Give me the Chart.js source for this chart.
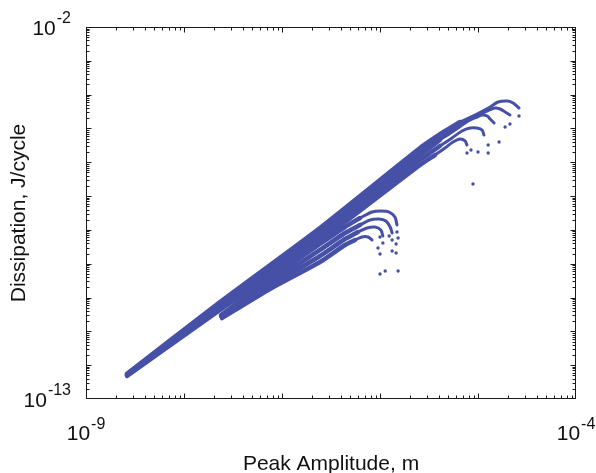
<!DOCTYPE html>
<html>
<head>
<meta charset="utf-8">
<style>html,body{margin:0;padding:0;background:#fff}canvas{display:block}</style>
<script src="https://cdn.jsdelivr.net/npm/chart.js@4.4.1/dist/chart.umd.min.js"></script>
</head>
<body>
<canvas id="c" width="596" height="473"></canvas>
<script>
// ---- Data ----
const xTitle = 'Peak Amplitude, m';
const yTitle = 'Dissipation, J/cycle';
const xTickValues = [1e-9, 1e-4];
const xTickExps = ['-9', '-4'];
const yTickValues = [1e-2, 1e-13];
const yTickExps = ['-2', '-13'];
const minorSteps = [2, 3, 4, 5, 6, 7, 8, 9];

// upper family of curves (start near 2.6e-9 m)
const u1X = [2.62e-9, 2.33e-8, 2.44e-7, 2.56e-6, 4.61e-6, 6.55e-6, 9.77e-6, 1.33e-5, 1.60e-5, 2.02e-5, 2.28e-5, 2.62e-5];
const u1Y = [5.60e-13, 7.38e-11, 1.14e-8, 2.64e-6, 8.41e-6, 1.55e-5, 2.68e-5, 4.31e-5, 6.06e-5, 6.48e-5, 5.66e-5, 4.03e-5];
const u2X = [2.62e-9, 2.33e-8, 2.44e-7, 2.56e-6, 4.61e-6, 6.55e-6, 9.32e-6, 1.18e-5, 1.49e-5, 1.68e-5, 1.89e-5, 2.12e-5];
const u2Y = [5.40e-13, 6.44e-11, 9.28e-9, 2.15e-6, 6.85e-6, 1.27e-5, 2.18e-5, 3.07e-5, 4.03e-5, 3.76e-5, 3.07e-5, 2.50e-5];
const u3X = [2.62e-9, 2.33e-8, 2.44e-7, 2.56e-6, 4.09e-6, 5.83e-6, 7.91e-6, 9.77e-6, 1.10e-5, 1.24e-5, 1.33e-5, 1.46e-5];
const u3Y = [5.20e-13, 5.62e-11, 7.57e-9, 1.64e-6, 4.56e-6, 9.00e-6, 1.66e-5, 2.18e-5, 2.50e-5, 2.34e-5, 1.90e-5, 1.45e-5];
const u4X = [2.62e-9, 2.33e-8, 2.44e-7, 2.56e-6, 4.09e-6, 5.43e-6, 6.87e-6, 8.29e-6, 9.77e-6, 1.10e-5, 1.15e-5];
const u4Y = [5.00e-13, 4.91e-11, 6.17e-9, 1.17e-6, 3.03e-6, 5.22e-6, 8.41e-6, 1.03e-5, 1.03e-5, 9.00e-6, 6.40e-6];
const u5X = [2.62e-9, 2.33e-8, 2.44e-7, 2.56e-6, 3.64e-6, 4.61e-6, 5.56e-6, 6.55e-6, 7.37e-6, 7.72e-6];
const u5Y = [4.80e-13, 4.28e-11, 4.70e-9, 8.31e-7, 1.64e-6, 2.64e-6, 3.98e-6, 4.88e-6, 4.26e-6, 3.24e-6];
const uTailX = [2.62e-5, 2.12e-5, 1.89e-5, 1.64e-5, 1.27e-5, 1.27e-5, 1.00e-5, 8.48e-6, 7.72e-6, 8.89e-6];
const uTailY = [2.34e-5, 1.35e-5, 1.10e-5, 3.98e-6, 3.24e-6, 1.88e-6, 2.01e-6, 2.31e-6, 1.88e-6, 2.28e-7];

// lower family of curves (start near 2.4e-8 m)
const lAX = [2.39e-8, 7.54e-8, 2.44e-7, 4.39e-7, 6.25e-7, 8.29e-7, 1.02e-6, 1.24e-6, 1.42e-6, 1.49e-6];
const lAY = [3.05e-11, 3.53e-10, 3.83e-9, 1.22e-8, 2.25e-8, 3.38e-8, 3.62e-8, 3.38e-8, 2.41e-8, 1.40e-8];
const lBX = [2.39e-8, 7.54e-8, 2.44e-7, 4.39e-7, 6.25e-7, 7.91e-7, 9.77e-7, 1.15e-6, 1.27e-6, 1.33e-6];
const lBY = [2.85e-11, 2.69e-10, 2.55e-9, 8.10e-9, 1.40e-8, 1.96e-8, 2.10e-8, 1.83e-8, 1.22e-8, 8.10e-9];
const lCX = [2.44e-8, 7.54e-8, 2.44e-7, 4.39e-7, 5.96e-7, 7.37e-7, 8.89e-7, 1.02e-6, 1.07e-6];
const lCY = [2.66e-11, 2.19e-10, 1.69e-9, 5.38e-9, 8.67e-9, 1.14e-8, 1.22e-8, 9.94e-9, 6.60e-9];
const lDX = [2.44e-8, 7.54e-8, 2.44e-7, 4.39e-7, 5.56e-7, 6.55e-7, 7.54e-7, 8.29e-7];
const lDY = [2.48e-11, 1.79e-10, 1.12e-9, 3.58e-9, 5.03e-9, 6.17e-9, 6.17e-9, 5.03e-9];
const lTailX = [1.49e-6, 1.53e-6, 1.33e-6, 1.46e-6, 1.00e-6, 1.07e-6, 9.54e-7, 1.00e-6, 1.33e-6, 1.46e-6, 1.13e-6, 1.00e-6, 1.53e-6, 1.24e-6];
const lTailY = [8.67e-9, 5.76e-9, 5.03e-9, 3.83e-9, 6.17e-9, 4.10e-9, 2.92e-9, 1.94e-9, 2.38e-9, 2.08e-9, 6.10e-10, 4.97e-10, 6.10e-10, 6.60e-9];

// index where each curve turns from its dense band into the sparser hook
const upperSplit = [5, 5, 4, 4, 4];
const lowerSplit = [4, 4, 4, 4];

// ---- Styling ----
const COLOR = '#4550a6';
const FONT = '"Liberation Sans", Arial, Helvetica, sans-serif';

function pts(xs, ys) { return xs.map((x, i) => ({ x: x, y: ys[i] })); }
function curve(xs, ys, k) {
  const all = pts(xs, ys);
  return [
    { data: all.slice(0, k + 1), showLine: true, borderColor: COLOR, backgroundColor: COLOR,
      borderWidth: 4.5, borderCapStyle: 'round', borderJoinStyle: 'round', pointRadius: 0, tension: 0.2 },
    { data: all.slice(k), showLine: true, borderColor: COLOR, backgroundColor: COLOR,
      borderWidth: 3, borderCapStyle: 'round', borderJoinStyle: 'round', pointRadius: 0, tension: 0.3 }
  ];
}
function dots(xs, ys) {
  return { data: pts(xs, ys), showLine: false, backgroundColor: COLOR, borderColor: COLOR,
           pointRadius: 1.7, pointBorderWidth: 0 };
}

function drawPow(ctx, base, exp, x, baseline, align, bigPx, smallPx) {
  ctx.font = bigPx + 'px ' + FONT;
  const wb = ctx.measureText(base).width;
  ctx.font = smallPx + 'px ' + FONT;
  const we = ctx.measureText(exp).width;
  const total = wb + 1 + we;
  let start = x;
  if (align === 'center') start = x - total / 2;
  else if (align === 'right') start = x - total;
  ctx.textAlign = 'left';
  ctx.textBaseline = 'alphabetic';
  ctx.font = bigPx + 'px ' + FONT;
  ctx.fillText(base, start, baseline);
  ctx.font = smallPx + 'px ' + FONT;
  ctx.fillText(exp, start + wb + 1, baseline - 11.5);
}

function logTicks(scale) {
  const out = [];
  const e0 = Math.round(Math.log10(scale.min));
  const e1 = Math.round(Math.log10(scale.max));
  for (let e = e0; e <= e1; e++) {
    const d = Math.pow(10, e);
    out.push({ v: d, major: true });
    if (e < e1) minorSteps.forEach(s => out.push({ v: s * d, major: false }));
  }
  return out;
}

const framePlugin = {
  id: 'frame',
  afterDraw(chart) {
    const ctx = chart.ctx;
    const a = chart.chartArea;
    const xs = chart.scales.x, ys = chart.scales.y;
    ctx.save();
    const L = Math.round(a.left) + 0.5, R = Math.round(a.right) - 0.5;
    const T = Math.round(a.top) + 0.5, B = Math.round(a.bottom) - 0.5;
    ctx.strokeStyle = '#1a1a1a';
    ctx.lineWidth = 1;
    ctx.strokeRect(L, T, R - L, B - T);
    ctx.beginPath();
    logTicks(xs).forEach(t => {
      const p = Math.round(xs.getPixelForValue(t.v)) + 0.5;
      if (p <= L + 1 || p >= R - 1) return;
      const len = t.major ? 5 : 3;
      ctx.moveTo(p, B); ctx.lineTo(p, B - len);
      ctx.moveTo(p, T); ctx.lineTo(p, T + len);
    });
    logTicks(ys).forEach(t => {
      const p = Math.round(ys.getPixelForValue(t.v)) + 0.5;
      if (p <= T + 1 || p >= B - 1) return;
      const len = t.major ? 5 : 3;
      ctx.moveTo(L, p); ctx.lineTo(L + len, p);
      ctx.moveTo(R, p); ctx.lineTo(R - len, p);
    });
    ctx.stroke();
    ctx.fillStyle = '#111';
    xTickValues.forEach((v, i) => {
      drawPow(ctx, '10', xTickExps[i], xs.getPixelForValue(v), 440, 'center', 21, 16);
    });
    yTickValues.forEach((v, i) => {
      drawPow(ctx, '10', yTickExps[i], 71, ys.getPixelForValue(v) + 7.5, 'right', 21, 16);
    });
    ctx.font = '21px ' + FONT;
    ctx.textAlign = 'center';
    ctx.textBaseline = 'alphabetic';
    ctx.fillText(xTitle, (a.left + a.right) / 2, 470);
    ctx.save();
    ctx.translate(25, (a.top + a.bottom) / 2);
    ctx.rotate(-Math.PI / 2);
    ctx.fillText(yTitle, 0, 0);
    ctx.restore();
    ctx.restore();
  }
};

const datasets = [].concat(
  curve(u1X, u1Y, upperSplit[0]), curve(u2X, u2Y, upperSplit[1]), curve(u3X, u3Y, upperSplit[2]),
  curve(u4X, u4Y, upperSplit[3]), curve(u5X, u5Y, upperSplit[4]),
  [dots(uTailX, uTailY)],
  curve(lAX, lAY, lowerSplit[0]), curve(lBX, lBY, lowerSplit[1]),
  curve(lCX, lCY, lowerSplit[2]), curve(lDX, lDY, lowerSplit[3]),
  [dots(lTailX, lTailY)]
);

new Chart(document.getElementById('c'), {
  type: 'scatter',
  data: { datasets: datasets },
  options: {
    responsive: false,
    maintainAspectRatio: false,
    devicePixelRatio: 1,
    animation: false,
    layout: { padding: { left: 86, right: 20, top: 27, bottom: 74 } },
    plugins: { legend: { display: false }, tooltip: { enabled: false } },
    scales: {
      x: { type: 'logarithmic', min: 1e-9, max: 1e-4, display: false },
      y: { type: 'logarithmic', min: 1e-13, max: 1e-2, display: false }
    }
  },
  plugins: [framePlugin]
});
</script>
</body>
</html>
